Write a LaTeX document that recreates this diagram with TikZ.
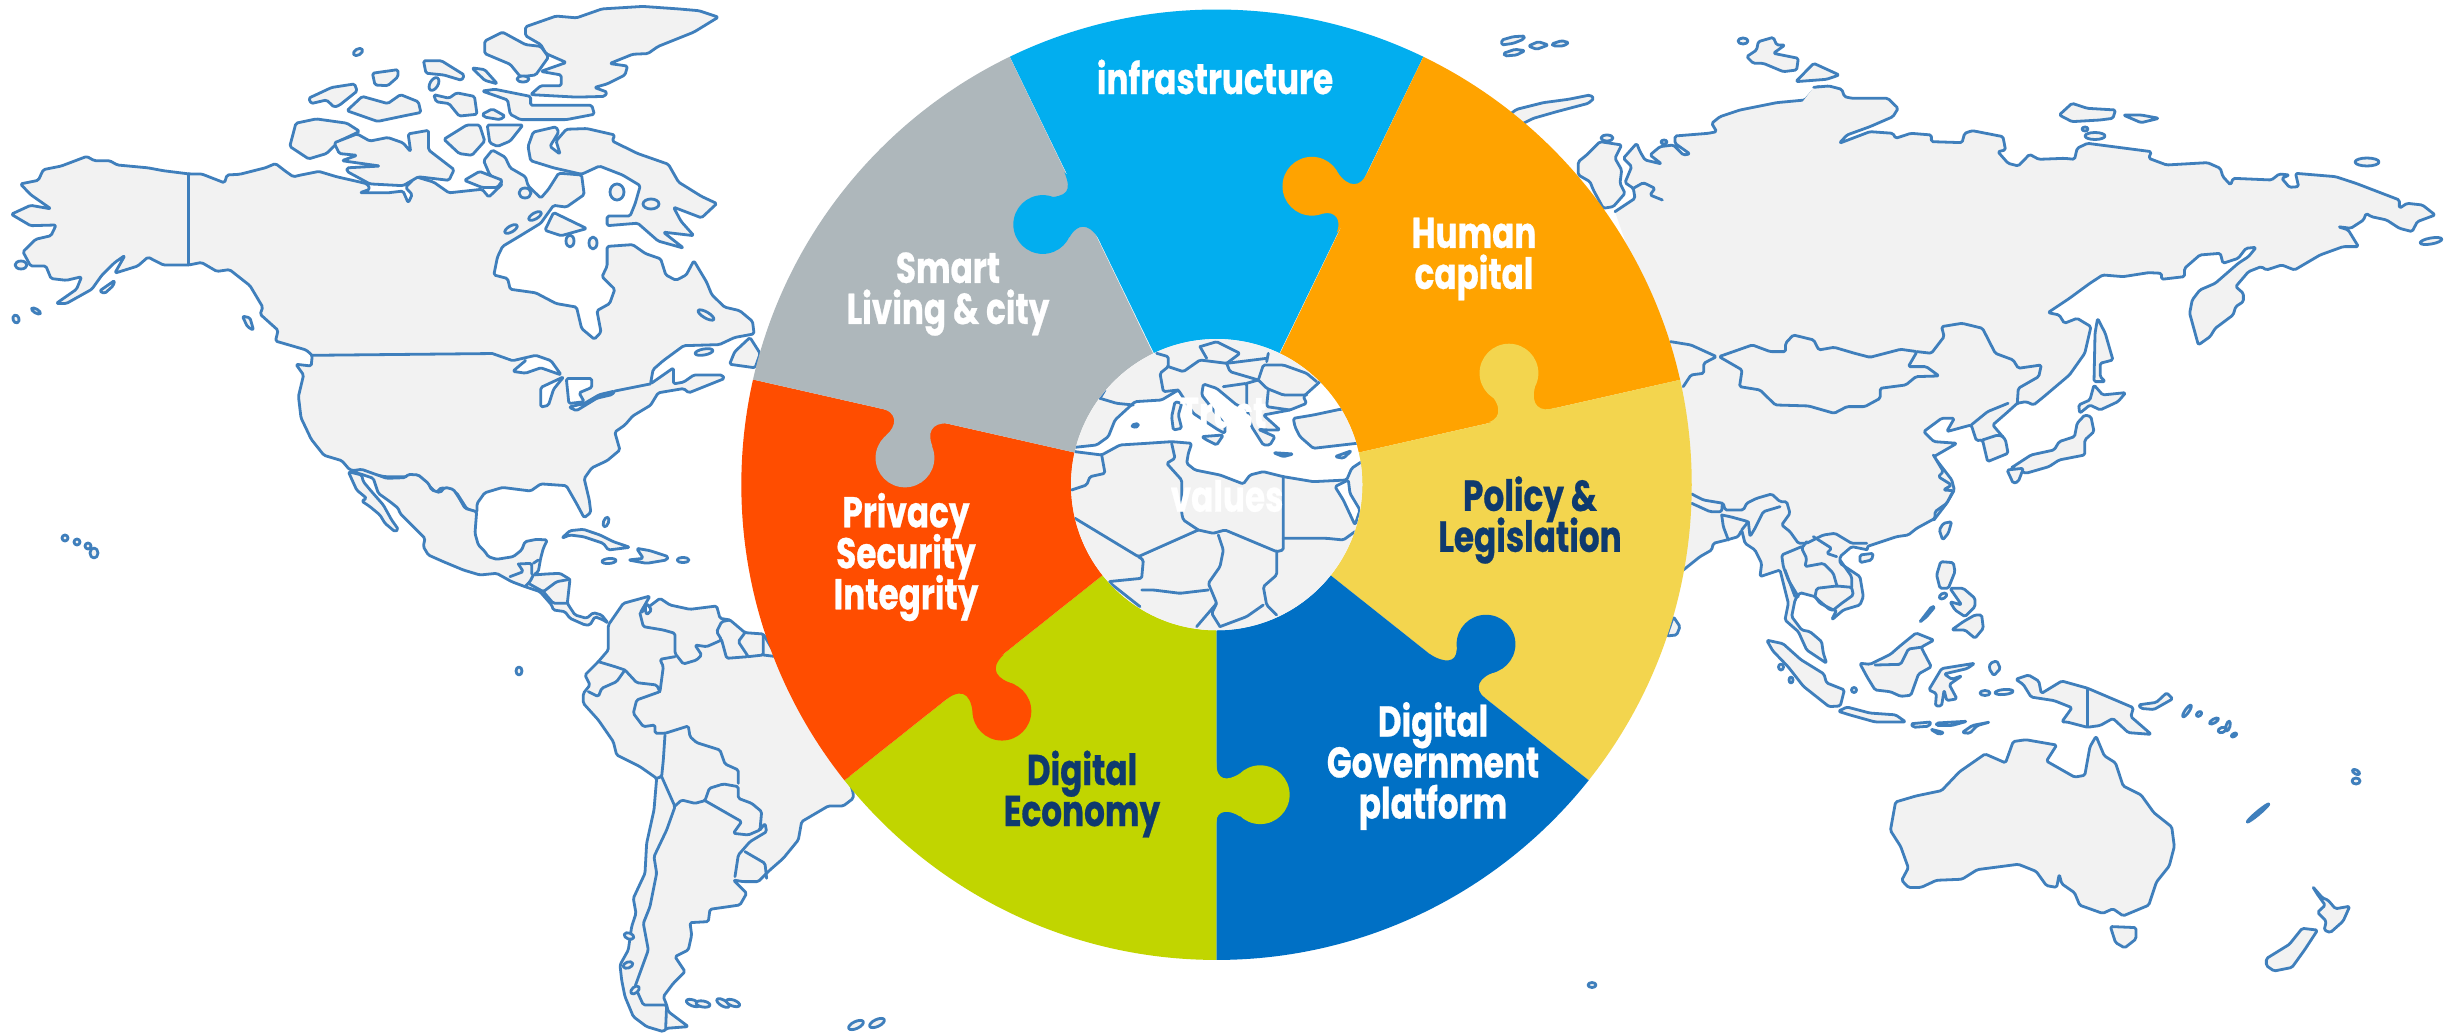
\documentclass[tikz,border=0pt]{standalone}
\usepackage{fontspec}
\newfontfamily\labf{Poppins}[FakeStretch=0.76,FakeBold=0.6]
\newcommand\labsetup{\labf\bfseries\fontsize{43}{41}\selectfont\lineskiplimit=-60pt\relax}
\definecolor{landc}{HTML}{F2F2F2}
\definecolor{coastc}{HTML}{3F7FBC}
\definecolor{cCyan}{HTML}{02AEEF}
\definecolor{cOrange}{HTML}{FFA300}
\definecolor{cYellow}{HTML}{F3D54E}
\definecolor{cBlue}{HTML}{0070C5}
\definecolor{cGreen}{HTML}{C1D500}
\definecolor{cRed}{HTML}{FF4D00}
\definecolor{cGray}{HTML}{AEB7BB}
\definecolor{cNavy}{HTML}{0F3A6E}
\tikzset{
 zthree/.style={x=.5102pt,y=-.3571pt},
 zfour/.style={shift={(500,560)},x=.3333pt,y=-.3333pt},
 zfive/.style={shift={(1650,0)},x=.5115pt,y=-.3333pt},
 zsix/.style={shift={(1650,480)},x=.5115pt,y=-.3558pt},
 zseven/.style={shift={(1500,30)},x=.3333pt,y=-.3333pt},
 zeight/.style={shift={(1660,340)},x=.3333pt,y=-.3333pt},
 znine/.style={shift={(330,440)},x=.3333pt,y=-.3333pt},
 zone/.style={shift={(720,0)},x=.6378pt,y=-.6378pt},
 ztwo/.style={shift={(1050,330)},x=.3333pt,y=-.3333pt},
 coastline/.style={draw=coastc,line width=2.8pt,line join=round,line cap=round,rounded corners=1.6pt},
 landp/.style={coastline,fill=landc},
 landf/.style={fill=landc},
 lake/.style={coastline,fill=white},
 lab/.style={font=\labsetup,align=center,inner sep=0pt,text=white},
 labn/.style={lab,text=cNavy},
}
\newcommand\islet[5]{\path[landp] (#1,#2) ellipse [x radius=#3pt,y radius=#4pt,rotate=#5];}
\begin{document}
\begin{tikzpicture}[x=1pt,y=-1pt]
\useasboundingbox (0,0) rectangle (2448,1035);
\fill[white] (0,0) rectangle (2448,1035);
% ---------- North America
\begin{scope}[zthree]
\path[landp] (40,515)--(75,505)--(85,475)--(120,465)--(170,438)--(185,450)--(215,450)--(230,462)--(290,470)--(320,478)--(370,487)--(395,487)--(440,512)--(445,490)--(470,488)--(520,470)--(540,458)--(560,480)--(575,495)--(590,490)--(625,480)--(660,495)--(700,508)--(720,515)--(725,530)--(705,540)--(760,540)--(790,535)--(800,568)--(808,545)--(795,525)--(815,495)--(850,510)--(880,540)--(945,530)--(958,552)--(985,515)--(960,490)--(948,450)--(965,420)--(990,440)--(1000,470)--(1030,495)--(1035,520)--(1060,555)--(1075,530)--(1095,485)--(1140,490)--(1145,545)--(1110,580)--(1085,575)--(1060,625)--(1020,660)--(985,690)--(975,720)--(968,770)--(995,780)--(1000,810)--(1050,820)--(1090,850)--(1130,860)--(1140,920)--(1165,950)--(1178,930)--(1170,870)--(1195,850)--(1205,810)--(1180,775)--(1190,745)--(1190,690)--(1240,685)--(1265,710)--(1295,725)--(1305,770)--(1325,785)--(1345,770)--(1360,730)--(1385,790)--(1395,825)--(1420,860)--(1450,870)--(1475,900)--(1478,935)--(1440,945)--(1410,965)--(1340,968)--(1300,1010)--(1280,1035)--(1275,1075)--(1320,1030)--(1320,1075)--(1340,1070)--(1360,1050)--(1415,1050)--(1420,1060)--(1350,1100)--(1340,1088)--(1290,1100)--(1275,1135)--(1240,1165)--(1225,1190)--(1205,1210)--(1215,1260)--(1190,1290)--(1160,1310)--(1145,1340)--(1155,1400)--(1158,1435)--(1145,1450)--(1130,1410)--(1110,1360)--(1060,1355)--(1040,1375)--(985,1365)--(950,1380)--(935,1410)--(935,1435)--(915,1425)--(895,1380)--(865,1365)--(855,1380)--(820,1330)--(795,1335)--(755,1335)--(685,1315)--(670,1290)--(635,1275)--(610,1230)--(590,1170)--(585,1110)--(595,1050)--(580,1020)--(610,1025)--(612,995)--(600,980)--(540,955)--(545,925)--(510,880)--(515,860)--(490,800)--(450,755)--(425,760)--(395,735)--(370,742)--(320,742)--(290,720)--(270,745)--(225,765)--(245,715)--(225,735)--(200,770)--(180,810)--(130,850)--(110,850)--(150,810)--(160,775)--(130,785)--(100,780)--(90,745)--(60,745)--(45,705)--(70,670)--(100,660)--(110,630)--(60,632)--(22,600)--(60,575)--(100,585)--(60,545)--cycle;
\draw[coastline] (370,487)--(370,742);
\draw[coastline] (612,995)--(965,990);
% great lakes
\path[lake] (965,990)--(1005,1010)--(1050,995)--(1080,1010)--(1100,1050)--(1060,1030)--(1030,1045)--(1005,1040)--(1030,1010);
\path[lake] (1060,1140)--(1060,1085)--(1105,1055)--(1085,1090)--(1075,1135)--cycle;
\path[lake] (1110,1060)--(1160,1060)--(1160,1085)--(1135,1100)--(1145,1125)--(1115,1130)--cycle;
\path[lake] (1115,1140)--(1145,1130)--(1175,1105)--(1205,1095)--(1200,1105)--(1170,1115)--(1130,1150)--cycle;
\draw[coastline] (1205,1095)--(1275,1075);
% arctic
\path[landp] (1030,75)--(1090,45)--(1130,50)--(1180,25)--(1260,18)--(1330,25)--(1370,30)--(1408,48)--(1360,90)--(1290,130)--(1270,150)--(1240,152)--(1195,178)--(1230,185)--(1225,210)--(1190,235)--(1165,245)--(1190,258)--(1185,270)--(1130,272)--(1040,265)--(1060,240)--(1100,240)--(1100,210)--(1060,200)--(1110,175)--(1070,150)--(1060,125)--(1030,100)--cycle;
\path[landp] (950,115)--(985,90)--(1030,125)--(1060,130)--(1075,160)--(1050,210)--(1020,215)--(1000,180)--(950,150)--cycle;
\path[landp] (945,255)--(970,250)--(1040,270)--(1040,295)--(1160,295)--(1165,320)--(1110,335)--(1020,335)--(1000,320)--(995,280)--cycle;
\path[landp] (830,170)--(865,170)--(910,210)--(905,225)--(870,210)--(835,205)--cycle;
\path[landp] (925,190)--(950,195)--(975,235)--(950,225)--cycle;
\path[landp] (730,205)--(780,195)--(780,215)--(760,240)--(735,238)--cycle;
\path[landp] (605,275)--(650,245)--(695,235)--(700,255)--(665,295)--(655,300)--(640,280)--(610,290)--cycle;
\path[landp] (680,310)--(710,270)--(760,290)--(785,265)--(820,285)--(825,315)--(790,325)--(740,340)--(700,320)--cycle;
\path[landp] (850,265)--(880,275)--(895,260)--(930,270)--(935,320)--(900,325)--(880,290)--(855,285)--cycle;
\path[landp] (945,320)--(965,305)--(990,325)--(980,335)--(950,328)--cycle;
\path[landp] (580,345)--(620,333)--(680,345)--(705,368)--(665,395)--(640,430)--(605,445)--(568,410)--cycle;
\path[landp] (655,400)--(700,375)--(725,395)--(760,385)--(790,400)--(805,425)--(800,375)--(840,365)--(840,420)--(890,475)--(880,505)--(820,495)--(790,520)--(725,515)--(680,480)--(680,470)--(745,465)--(670,450)--(700,435)--(665,430)--cycle;
\path[landp] (870,390)--(915,350)--(940,350)--(950,395)--(925,435)--(900,430)--cycle;
\path[landp] (955,350)--(1025,350)--(1000,395)--(975,410)--(960,400)--cycle;
\path[landp] (910,505)--(940,480)--(985,505)--(975,525)--(945,525)--cycle;
\path[landp] (1035,410)--(1045,370)--(1090,355)--(1095,370)--(1078,410)--(1098,432)--(1090,395)--(1110,362)--(1150,360)--(1205,378)--(1200,395)--(1250,430)--(1310,460)--(1330,510)--(1375,550)--(1405,570)--(1375,610)--(1320,580)--(1335,620)--(1360,660)--(1300,650)--(1340,695)--(1290,675)--(1250,625)--(1190,632)--(1190,605)--(1235,605)--(1245,570)--(1255,520)--(1220,490)--(1175,465)--(1140,488)--(1085,470)--(1040,450)--cycle;
\path[landp] (1085,595)--(1150,640)--(1100,660)--(1068,645)--cycle;
\path[landp] (1430,1020)--(1440,985)--(1470,945)--(1490,990)--(1480,1030)--cycle;
\path[landp] (475,885)--(490,890)--(497,925)--(485,915)--cycle;
\path[landp] (195,815)--(225,785)--(222,800)--(205,822)--cycle;
\end{scope}
\islet{358}{52}{5}{3}{30}
\islet{523}{79}{6}{3}{0}
\islet{434}{84}{7}{4}{60}
\islet{525}{193}{6}{5}{0}
\islet{570}{241}{4}{6}{0}
\islet{593}{243}{4}{6}{0}
\islet{535}{216}{7}{3}{30}
\islet{511}{229}{7}{3}{30}
\islet{617}{192}{7}{8}{0}
\islet{651}{204}{8}{5}{0}
\islet{21}{265}{6}{4}{0}
\islet{16}{319}{3}{4}{20}
\islet{36}{311}{5}{2}{-30}
\islet{706}{315}{9}{3}{-30}
\islet{704}{352}{9}{3}{10}
\islet{65}{538}{3}{3}{0}
\islet{77}{542}{3}{3}{0}
\islet{88}{546}{3}{3}{0}
\islet{94}{553}{4}{5}{0}
% ---------- Mexico, Central America, Caribbean
\begin{scope}[znine]
\path[landp] (60,93)--(95,88)--(170,115)--(225,113)--(235,103)--(265,105)--(295,130)--(305,150)--(330,158)--(345,142)--(370,148)--(385,170)--(405,205)--(440,215)--(435,280)--(445,315)--(465,335)--(475,350)--(500,358)--(550,350)--(575,330)--(585,305)--(620,298)--(652,300)--(640,325)--(632,355)--(625,395)--(610,405)--(650,402)--(690,400)--(720,418)--(712,490)--(735,525)--(770,535)--(790,518)--(815,525)--(835,550)--(820,540)--(795,530)--(780,555)--(765,555)--(720,535)--(705,515)--(670,510)--(665,495)--(630,455)--(585,440)--(545,425)--(500,400)--(450,405)--(400,390)--(340,365)--(295,345)--(280,320)--(285,295)--(250,260)--(210,220)--(205,205)--(180,185)--(145,160)--(130,115)--(95,103)--cycle;
\path[landp] (55,95)--(80,150)--(110,175)--(95,183)--(120,200)--(150,225)--(165,250)--(195,275)--(205,268)--(185,240)--(160,195)--(125,155)--(100,125)--(95,105)--cycle;
\draw[coastline] (565,372)--(605,370)--(605,402);
\draw[coastline] (565,372)--(580,395)--(540,410);
\draw[coastline] (625,360)--(610,370);
\draw[coastline] (585,440)--(600,425)--(610,405);
\draw[coastline] (595,430)--(640,455)--(680,425)--(720,418);
\draw[coastline] (710,490)--(670,490)--(640,455);
\path[landp] (695,295)--(720,272)--(760,268)--(810,285)--(850,305)--(900,322)--(835,330)--(820,310)--(760,290)--(720,285)--cycle;
\path[landp] (895,360)--(940,355)--(920,325)--(960,332)--(1015,350)--(1010,360)--(950,370)--cycle;
\end{scope}
\islet{609}{561}{7}{2.5}{5}
\islet{683}{560}{6}{2.5}{0}
\islet{606}{522}{2.5}{5}{-20}
% ---------- South America
\begin{scope}[zfour]
\path[landp] (325,195)--(370,130)--(450,108)--(420,160)--(480,115)--(510,135)--(570,148)--(650,138)--(660,175)--(690,180)--(735,218)--(790,222)--(830,290)--(1000,500)--(1060,700)--(1060,715)--(1030,738)--(985,738)--(905,785)--(895,840)--(850,895)--(810,930)--(775,965)--(730,965)--(700,960)--(740,1000)--(720,1035)--(630,1048)--(625,1085)--(570,1088)--(575,1125)--(565,1170)--(525,1190)--(555,1235)--(520,1270)--(490,1310)--(500,1335)--(505,1355)--(565,1400)--(500,1405)--(490,1415)--(440,1400)--(400,1370)--(375,1310)--(365,1260)--(360,1215)--(385,1170)--(395,1100)--(408,1060)--(400,1015)--(435,940)--(440,850)--(462,750)--(470,655)--(420,620)--(350,585)--(340,545)--(295,480)--(250,430)--(250,400)--(270,375)--(255,345)--(295,305)--(325,270)--cycle;
\draw[coastline] (485,650)--(525,740)--(500,810)--(462,890)--(470,940)--(450,1040)--(430,1090)--(445,1170)--(405,1280)--(430,1335)--(500,1335)--(497,1405);
\draw[coastline] (420,160)--(430,200)--(490,210)--(525,220)--(525,280)--(550,312)--(590,300)--(605,285)--(585,255)--(620,260)--(665,240)--(650,215)--(665,185)--(690,180);
\draw[coastline] (665,240)--(680,295)--(745,290)--(715,245)--(735,218);
\draw[coastline] (745,290)--(790,285)--(790,225);
\draw[coastline] (790,285)--(830,290);
\draw[coastline] (525,290)--(480,298)--(490,320)--(480,395)--(410,420)--(400,460)--(430,500)--(465,495)--(465,520)--(495,520)--(565,498)--(570,530)--(590,548)--(660,570)--(675,612)--(715,630)--(715,670);
\draw[coastline] (295,305)--(345,320)--(375,330)--(410,368)--(470,375)--(480,395);
\draw[coastline] (375,330)--(350,365)--(305,385)--(295,410)--(265,395);
\draw[coastline] (495,525)--(490,600)--(485,650)--(470,655);
\draw[coastline] (525,738)--(545,720)--(585,730)--(615,722)--(628,685)--(670,672)--(715,680)--(715,715)--(755,730)--(785,755)--(780,810)--(745,825)--(700,820)--(725,785)--(615,722);
\draw[coastline] (780,810)--(795,790)--(800,815)--(750,845)--(715,885)--(705,950);
\draw[coastline] (735,875)--(795,910)--(800,955);
\path[lake] (440,130)--(455,150)--(440,165)--(435,145)--cycle;
\end{scope}
\islet{519}{671}{3}{4}{0}
\islet{693}{1003}{7}{3}{-20}
\islet{703}{1004}{7}{3}{-10}
\islet{723}{1003}{7}{3}{-30}
\islet{733}{1003}{7}{3}{-20}
\islet{856}{1025}{8}{3.5}{25}
\islet{877}{1023}{8}{3.5}{25}
\islet{1592}{985}{4}{2.5}{0}
\islet{629}{936}{5}{3}{-20}
\islet{628}{965}{5}{3}{20}
\islet{635}{990}{5}{3}{40}
% ---------- Russia, north-west
\def\pWest{(345,545)--(405,505)--(400,475)--(375,458)--(395,410)--(370,385)--(410,340)--(420,365)--(435,390)--(485,402)--(450,375)--(480,350)--(520,345)--(550,375)--(570,372)--(525,340)--(525,318)--(625,310)--(650,305)--(635,280)--(660,260)--(720,240)--(830,218)--(915,210)--(950,170)--(960,170)}
\begin{scope}[zseven]
\fill[landf] \pWest -- (960,960) -- (490,960) -- cycle;
\draw[coastline] \pWest;
\draw[coastline] (400,475)--(430,458)--(465,475)--(450,495)--(487,510);
\path[landp] (235,395)--(260,375)--(300,335)--(365,345)--(345,385)--(365,420)--(360,460)--(375,490)--(340,530)--(310,535)--(280,480)--(270,455)--(235,435)--cycle;
\path[landp] (20,260)--(50,238)--(130,218)--(205,208)--(270,195)--(282,205)--(265,220)--(170,245)--(100,265)--(70,280)--(40,290)--cycle;
\path[landp] (740,80)--(770,60)--(775,35)--(820,22)--(830,45)--(855,45)--(820,70)--(895,85)--(890,120)--(850,125)--(790,100)--(760,100)--cycle;
\path[landp] (5,30)--(40,20)--(75,18)--(70,28)--(40,40)--(5,45)--cycle;
\path[landp] (10,70)--(45,58)--(75,62)--(50,75)--(15,78)--cycle;
\path[landp] (85,48)--(115,35)--(145,45)--(110,58)--cycle;
\path[landp] (155,42)--(185,32)--(207,38)--(190,48)--(160,48)--cycle;
\end{scope}
\islet{1743}{41}{5}{3}{0}
\islet{1607}{138}{6}{3}{0}
\islet{1664}{142}{3}{2}{0}
% ---------- Russia, far east
\def\pEast{(320,262)--(350,258)--(375,268)--(380,290)--(395,295)--(465,295)--(485,325)--(475,350)--(430,380)--(385,405)--(370,430)--(430,395)--(475,400)--(480,415)--(510,400)--(550,405)--(550,425)--(610,428)--(615,400)--(630,392)--(690,410)--(695,450)--(680,455)--(700,490)--(720,498)--(742,463)--(760,478)--(810,475)--(830,478)--(835,445)--(855,430)--(905,440)--(980,455)--(975,475)--(1010,495)--(1090,488)--(1115,505)--(1120,530)--(1135,555)--(1140,535)--(1215,540)--(1230,522)--(1250,525)--(1235,535)--(1250,562)--(1268,560)--(1262,520)--(1340,530)--(1380,550)--(1465,600)--(1465,625)--(1480,610)--(1510,615)--(1535,645)--(1500,665)--(1490,695)--(1465,685)--(1440,660)--(1410,650)--(1400,640)--(1395,660)--(1370,685)--(1345,680)--(1365,690)--(1385,740)--(1355,740)--(1310,765)--(1260,810)--(1235,795)--(1205,810)--(1195,800)--(1170,815)--(1145,860)--(1160,880)--(1160,905)--(1145,920)--(1140,945)--(1105,985)--(1095,1010)--(1072,1035)--(1055,940)--(1060,900)--(1075,870)--(1105,850)--(1150,790)--(1170,770)--(1185,742)--(1165,745)--(1150,775)--(1120,790)--(1115,760)--(1075,765)--(1045,805)--(1045,830)--(1000,838)--(1000,820)--(975,818)--(925,830)--(885,825)--(860,850)--(820,895)--(778,938)--(800,945)--(810,970)--(835,955)--(862,980)--(850,1060)--(820,1125)--(770,1190)--(750,1215)--(735,1205)--(718,1210)--(700,1235)--(670,1275)--(695,1320)--(700,1360)--(660,1385)--(650,1320)--(638,1322)--(628,1275)--(580,1295)--(595,1255)--(570,1255)--(535,1295)--(555,1325)--(600,1330)--(555,1370)--(580,1420)--(590,1440)--(595,1470)--(580,1510)--(555,1560)}
\begin{scope}[zfive]
\fill[landf] \pEast -- (60,1560) -- (0,900) -- cycle;
\draw[coastline] \pEast;
\draw[coastline] (135,1070)--(180,1110)--(175,1160)--(215,1170)--(245,1215)--(310,1218)--(360,1240)--(385,1220)--(420,1220)--(450,1195)--(450,1165)--(500,1155)--(520,1130)--(565,1128)--(540,1100)--(505,1100)--(522,1055)--(490,1048)--(430,1072)--(400,1060)--(360,1042)--(330,1050)--(320,1020)--(280,1005)--(265,1030)--(265,1055)--(235,1055)--(200,1035)--cycle;
\draw[coastline] (40,1025)--(80,1035)--(130,1070)--(105,1090)--(105,1120)--(80,1125)--(65,1160);
\draw[coastline] (522,1055)--(550,1060)--(575,1010)--(570,980)--(610,970)--(650,985)--(675,1060)--(710,1080)--(720,1105)--(765,1095)--(760,1130)--(720,1165)--(718,1210);
\draw[coastline] (628,1275)--(660,1235)--(700,1210);
\draw[coastline] (650,1320)--(680,1305)--(690,1310);
\path[landp] (875,955)--(890,1000)--(905,1080)--(880,1090)--(880,1130)--(890,1145)--(868,1145)--(870,1000)--cycle;
\path[landp] (868,1155)--(885,1185)--(930,1178)--(915,1205)--(880,1230)--(860,1215)--(840,1240)--(838,1215)--(860,1200)--cycle;
\path[landp] (850,1245)--(862,1250)--(868,1295)--(850,1320)--(850,1365)--(800,1380)--(780,1400)--(735,1420)--(720,1410)--(705,1405)--(745,1365)--(790,1350)--(800,1325)--(830,1310)--(835,1270)--cycle;
\path[landp] (698,1410)--(730,1405)--(720,1445)--(710,1450)--cycle;
\path[landp] (285,245)--(320,190)--(370,225)--(345,238)--cycle;
\path[landp] (800,345)--(825,310)--(855,325)--(910,330)--(905,355)--(880,360)--(825,365)--cycle;
\path[landp] (925,345)--(960,345)--(995,355)--(960,368)--cycle;
\end{scope}
\islet{2085}{129}{3}{2}{0}
\islet{2095}{136}{10}{3.5}{0}
\islet{2367}{162}{12}{4}{0}
\islet{2431}{241}{11}{3}{10}
% ---------- South and south-east Asia
\def\pSouth{(820,345)--(850,395)--(835,410)--(875,435)--(850,450)--(880,452)--(860,490)--(825,515)--(825,535)--(770,565)--(745,585)--(710,590)--(620,620)--(625,630)--(575,620)--(540,650)--(540,670)--(600,710)--(610,770)--(600,795)--(550,810)--(515,840)--(530,810)--(510,810)--(475,780)--(465,770)--(420,758)--(405,780)--(395,830)--(425,870)--(450,875)--(485,905)--(490,940)--(500,970)--(440,930)--(415,875)--(375,840)--(385,790)--(360,690)--(300,710)--(305,670)--(285,630)--(255,610)--(245,570)--(235,590)--(200,600)--(160,610)--(155,630)--(120,650)--(70,690)}
\begin{scope}[zeight]
\fill[landf] \pSouth -- (60,300) -- cycle;
\draw[coastline] \pSouth;
\draw[coastline] (95,462)--(130,480)--(190,490)--(195,510)--(250,510)--(260,490)--(290,475)--(335,462)--(360,485)--(380,485)--(390,520)--(365,555)--(390,575)--(415,610)--(440,610)--(490,585)--(525,580)--(575,610)--(620,610);
\draw[coastline] (95,490)--(150,515)--(185,515)--(187,490);
\draw[coastline] (185,525)--(190,560)--(205,600);
\draw[coastline] (185,525)--(210,530)--(265,545)--(245,570);
\draw[coastline] (265,545)--(270,590)--(285,565)--(310,515)--(360,500);
\draw[coastline] (425,620)--(365,645)--(370,680)--(385,720)--(415,770);
\draw[coastline] (440,605)--(425,625)--(440,655)--(435,680)--(490,670)--(520,700)--(530,735);
\draw[coastline] (530,650)--(500,640)--(515,625)--(460,590);
\draw[coastline] (465,770)--(470,745)--(530,738)--(575,742)--(580,765)--(545,790)--(520,810);
\draw[coastline] (465,770)--(480,790)--(520,810);
\draw[coastline] (540,660)--(575,710)--(575,742);
\draw[coastline] (375,690)--(405,770);
\path[landp] (838,570)--(850,550)--(875,545)--(865,580)--(848,600)--cycle;
\path[landp] (600,645)--(640,640)--(635,660)--(600,668)--cycle;
\path[landp] (842,665)--(880,668)--(885,695)--(865,745)--(840,745)--(830,705)--cycle;
\path[landp] (870,745)--(910,745)--(945,775)--(945,800)--(915,830)--(885,810)--(870,785)--(905,795)--cycle;
\path[landp] (875,870)--(910,845)--(945,825)--(965,825)--(970,865)--(945,895)--(915,870)--cycle;
\path[landp] (778,848)--(815,800)--(825,800)--(800,830)--cycle;
\path[landp] (40,830)--(60,860)--(50,885)--(20,888)--cycle;
\end{scope}
\islet{1943}{596}{4}{2.5}{30}
% ---------- Indonesia, Australia, New Zealand
\begin{scope}[zsix]
\path[landp] (228,450)--(260,460)--(295,505)--(340,545)--(345,570)--(380,590)--(372,635)--(350,637)--(300,580)--(270,525)--(240,480)--cycle;
\path[landp] (368,650)--(385,638)--(430,655)--(480,660)--(500,680)--(440,680)--(390,660)--cycle;
\path[landp] (510,685)--(550,680)--(545,692)--(515,695)--cycle;
\path[landp] (560,683)--(620,678)--(590,690)--(560,690)--cycle;
\path[landp] (548,700)--(575,710)--(565,715)--cycle;
\path[landp] (610,710)--(630,690)--(665,680)--(640,690)--(625,712)--cycle;
\path[landp] (410,515)--(430,518)--(470,490)--(490,465)--(520,430)--(555,450)--(530,470)--(550,525)--(525,545)--(510,605)--(490,608)--(470,595)--(440,590)--(425,555)--cycle;
\draw[coastline] (440,520)--(490,518)--(505,475)--(530,470);
\path[landp] (545,590)--(570,530)--(635,515)--(620,530)--(575,545)--(590,560)--(610,550)--(585,575)--(600,615)--(580,620)--(575,590)--(570,635)--(558,635)--(560,600)--cycle;
\path[landp] (665,515)--(678,508)--(685,530)--(672,550)--(663,530)--cycle;
\path[landp] (715,560)--(740,548)--(760,565)--(765,600)--(805,565)--(855,585)--(945,640)--(940,665)--(980,715)--(935,710)--(905,670)--(880,690)--(855,695)--(815,680)--(805,680)--(825,640)--(790,620)--(745,610)--(730,575)--cycle;
\draw[coastline] (855,588)--(855,693);
\path[landp] (955,632)--(990,625)--(1010,598)--(1022,615)--(985,645)--(960,642)--cycle;
\path[landp] (480,905)--(520,888)--(570,873)--(605,820)--(655,770)--(695,795)--(710,735)--(735,730)--(795,745)--(775,790)--(830,835)--(850,830)--(860,750)--(872,720)--(888,775)--(910,795)--(925,860)--(960,885)--(985,935)--(1020,975)--(1025,1030)--(1015,1085)--(990,1130)--(975,1195)--(925,1225)--(905,1205)--(885,1218)--(840,1195)--(830,1160)--(805,1135)--(800,1108)--(795,1145)--(775,1140)--(755,1100)--(720,1080)--(640,1095)--(610,1122)--(560,1125)--(530,1145)--(505,1145)--(492,1125)--(505,1090)--(490,1030)--(470,985)--cycle;
\path[landp] (900,1255)--(950,1258)--(950,1290)--(928,1315)--(910,1300)--cycle;
\path[landp] (1295,1142)--(1315,1175)--(1325,1180)--(1340,1205)--(1368,1198)--(1355,1240)--(1330,1272)--(1318,1265)--(1322,1240)--(1305,1215)--(1320,1195)--(1305,1165)--cycle;
\path[landp] (1275,1260)--(1305,1265)--(1280,1320)--(1255,1370)--(1220,1380)--(1205,1365)--(1205,1345)--(1250,1305)--cycle;
\end{scope}
\islet{1985}{693}{5}{2.5}{0}
\islet{2004}{692}{9}{2.5}{5}
\islet{1781}{667}{2.5}{3}{0}
\islet{1791}{680}{2}{3}{0}
\islet{1854}{690}{2.5}{2.5}{0}
\islet{2187}{711}{7}{2}{55}
\islet{2199}{714}{3}{2}{40}
\islet{2214}{721}{5}{2}{30}
\islet{2228}{726}{5}{2}{75}
\islet{2222}{730}{4}{2.5}{20}
\islet{2234}{735}{3}{1.5}{30}
\islet{2356}{781}{4}{3}{0}
\islet{2258}{813}{14}{1.5}{40}
\islet{2356}{772}{4}{2}{-30}
% ---------- Wheel
\begin{scope}[zone]
\begin{scope}
\clip (778.5,760) circle [radius=475.2pt];
\fill[cCyan]   (778.5,760)--(680,553)--(400,-23)--(1157,-23)--(878,552)--cycle;
\fill[cOrange] (778.5,760)--(1157,-23)--(1640,-23)--(1640,565)--cycle;
\fill[cYellow] (778.5,760)--(1640,565)--(1640,1333)--(1500,1333)--cycle;
\fill[cBlue]   (778.5,760)--(1500,1333)--(1500,1600)--(778,1600)--cycle;
\fill[cGreen]  (778.5,760)--(778,1600)--(100,1600)--(100,1299)--cycle;
\fill[cRed]    (778.5,760)--(100,1299)--(-50,1299)--(-50,572)--cycle;
\fill[cGray]   (778.5,760)--(-50,572)--(-50,-23)--(400,-23)--cycle;
\end{scope}
% knobs
\fill[cCyan] (506,352) circle [radius=29.4pt];
\fill[cCyan] (540,270) .. controls (552,300) and (545,308) .. (510,310) -- (548,372) .. controls (560,350) and (578,350) .. (592,372) -- (600,320) -- cycle;
\fill[cOrange] (928,292) circle [radius=29.4pt];
\fill[cOrange] (1015,270) .. controls (1005,295) and (985,295) .. (968,270) -- (945,335) .. controls (965,330) and (975,345) .. (967,365) -- (1005,320) -- cycle;
\fill[cYellow] (1237,585) circle [radius=29.4pt];
\fill[cYellow] (1310,639) .. controls (1285,648) and (1270,635) .. (1278,606) -- (1197,608) .. controls (1225,630) and (1228,655) .. (1205,662) -- (1257,668) -- cycle;
\fill[cBlue] (1201,1010) circle [radius=29.4pt];
\fill[cBlue] (1200,1095) .. controls (1180,1080) and (1190,1060) .. (1218,1053) -- (1155,1018) .. controls (1155,1040) and (1135,1040) .. (1112,1025) -- (1146,1075) -- cycle;
\fill[cGreen] (847,1246) circle [radius=29.4pt];
\fill[cGreen] (778,1290) .. controls (778,1268) and (800,1270) .. (815,1280) -- (815,1213) .. controls (795,1225) and (778,1225) .. (778,1195) -- (762,1240) -- cycle;
\fill[cRed] (442,1115) circle [radius=29.4pt];
\fill[cRed] (355,1096) .. controls (385,1075) and (395,1095) .. (397,1125) -- (462,1073) .. controls (435,1065) and (420,1050) .. (445,1026) -- (388,1048) -- cycle;
\fill[cGray] (290,718) circle [radius=29.4pt];
\fill[cGray] (250,640) .. controls (280,645) and (278,668) .. (260,683) -- (333,700) .. controls (325,680) and (330,662) .. (358,664) -- (308,638) -- cycle;
\end{scope}
% ---------- Centre globe
\begin{scope}[ztwo]
\begin{scope}
\clip (500,464) circle [radius=145.6pt];
\fill[white] (0,0) rectangle (1000,960);
\path[landp] (-20,345)--(75,365)--(155,375)--(210,345)--(290,340)--(365,335)--(425,340)--(415,370)--(410,400)--(435,420)--(510,435)--(580,462)--(600,435)--(640,425)--(700,440)--(790,455)--(890,450)--(905,415)--(935,395)--(1020,395)--(1020,980)--(-20,980)--cycle;
\path[landp] (-20,340)--(75,352)--(140,345)--(175,320)--(195,270)--(255,215)--(335,210)--(385,180)--(430,250)--(505,300)--(525,310)--(525,285)--(490,240)--(455,195)--(460,162)--(500,175)--(560,225)--(590,235)--(605,290)--(640,345)--(660,345)--(675,320)--(625,298)--(655,300)--(690,300)--(640,255)--(720,240)--(770,220)--(760,200)--(810,155)--(900,-20)--(-20,-20)--cycle;
\path[landp] (730,265)--(790,255)--(870,238)--(1020,230)--(1020,345)--(920,340)--(790,355)--(750,320)--(735,290)--cycle;
\path[lake] (855,470)--(880,510)--(915,585)--(930,540)--(900,490)--(895,450)--cycle;
\path[landp] (375,215)--(395,220)--(385,255)--(395,295)--(370,300)--(365,260)--cycle;
\path[landp] (455,320)--(520,315)--(500,345)--(470,330)--cycle;
\path[landp] (855,380)--(905,362)--(880,385)--cycle;
\path[landp] (670,368)--(730,372)--(700,380)--cycle;
\path[landp] (245,285)--(265,280)--(265,290)--(248,292)--cycle;
\draw[coastline] (150,205)--(200,220)--(250,225);
\draw[coastline] (165,180)--(150,205);
\draw[coastline] (320,70)--(355,80)--(355,110)--(330,130)--(340,185)--(385,180);
\draw[coastline] (355,110)--(400,125)--(450,90)--(530,100)--(650,85);
\draw[coastline] (450,50)--(500,35)--(570,70)--(530,100);
\draw[coastline] (450,50)--(470,85);
\draw[coastline] (530,100)--(540,125)--(625,150)--(650,175)--(700,195)--(770,195);
\draw[coastline] (625,150)--(640,105)--(700,105)--(770,130)--(800,155);
\draw[coastline] (655,70)--(650,95);
\draw[coastline] (520,170)--(590,160)--(590,225);
\draw[coastline] (590,160)--(625,150);
\draw[coastline] (655,180)--(650,230)--(720,240);
\draw[coastline] (155,375)--(165,430)--(120,440)--(110,465)--(65,480);
\draw[coastline] (365,340)--(375,385)--(350,400)--(395,450)--(395,550)--(400,570)--(445,600);
\draw[coastline] (445,600)--(490,610)--(525,600)--(680,665)--(700,660)--(700,440);
\draw[coastline] (700,625)--(830,625)--(880,630)--(915,605);
\draw[coastline] (680,665)--(680,735)--(640,770)--(650,825)--(680,855);
\draw[coastline] (505,615)--(520,660)--(510,710)--(475,760)--(500,820)--(485,850)--(510,890);
\draw[coastline] (75,565)--(265,680)--(445,600);
\draw[coastline] (265,680)--(280,690)--(275,745)--(175,755)--(270,830);
\draw[coastline] (275,780)--(310,780)--(390,790)--(475,780);
\draw[coastline] (640,825)--(590,860)--(510,890);
\draw[coastline] (500,820)--(440,890);
\end{scope}
\end{scope}
% ---------- Labels
\node[lab] (trust) at (1223,413) {Trust};
\node[lab] (values) at (1227,496) {values};
\node[lab] (infra) at (1215,77) {infrastructure};
\node[lab] (smart) at (948,294) {Smart\\Living \& city};
\node[lab] (human) at (1474,259) {Human\\capital};
\node[labn] (policy) at (1530,520) {Policy \&\\Legislation};
\node[lab] (gov) at (1433,766) {Digital\\Government\\platform};
\node[labn] (econ) at (1082,794) {Digital\\Economy};
\node[lab] (priv) at (906,557) {Privacy\\Security\\Integrity};
\end{tikzpicture}
\end{document}
